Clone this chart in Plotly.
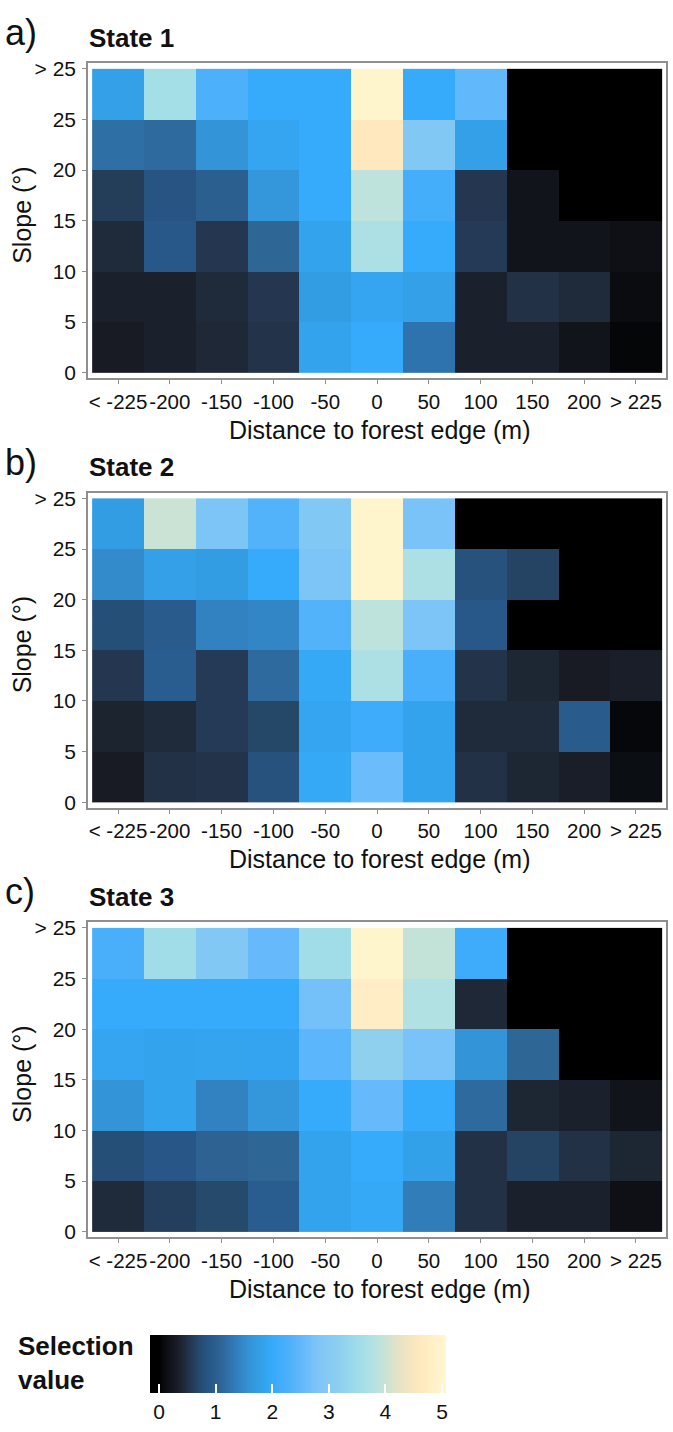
import plotly.graph_objects as go

W, H = 673, 1432

x_labels = ["< -225", "-200", "-150", "-100", "-50", "0", "50", "100", "150", "200", "> 225"]
y_tick_labels = ["0", "5", "10", "15", "20", "25", "> 25"]
y_tick_vals = [0, 5, 10, 15, 20, 25, 30]
y_centers = [2.5, 7.5, 12.5, 17.5, 22.5, 27.5]   # slope bins 0-5 ... >25
x_centers = list(range(len(x_labels)))

# rows: slope bins from 0-5 (first) to >25 (last); columns follow x_labels
state1 = [
    [0.30, 0.35, 0.42, 0.52, 1.85, 2.00, 1.25, 0.35, 0.35, 0.20, 0.05],
    [0.35, 0.35, 0.45, 0.55, 1.75, 1.90, 1.80, 0.35, 0.50, 0.45, 0.10],
    [0.45, 0.90, 0.55, 1.10, 1.85, 3.70, 2.00, 0.58, 0.20, 0.20, 0.15],
    [0.60, 0.85, 1.00, 1.65, 2.00, 3.90, 2.20, 0.55, 0.20, 0.00, 0.00],
    [1.20, 1.15, 1.60, 1.90, 2.00, 4.60, 2.90, 1.80, 0.00, 0.00, 0.00],
    [1.80, 3.60, 2.30, 2.00, 2.00, 5.00, 2.00, 2.50, 0.00, 0.00, 0.00],
]
state2 = [
    [0.30, 0.50, 0.52, 0.82, 1.95, 2.60, 1.85, 0.50, 0.40, 0.33, 0.12],
    [0.38, 0.45, 0.58, 0.68, 1.90, 2.10, 1.85, 0.45, 0.45, 0.95, 0.06],
    [0.55, 0.98, 0.58, 1.15, 1.95, 3.70, 2.25, 0.52, 0.40, 0.30, 0.33],
    [0.78, 0.95, 1.40, 1.45, 2.35, 3.90, 2.80, 0.90, 0.00, 0.00, 0.00],
    [1.50, 1.80, 1.75, 2.00, 2.80, 5.00, 3.70, 0.82, 0.65, 0.00, 0.00],
    [1.75, 4.00, 2.80, 2.35, 2.90, 5.00, 2.75, 0.00, 0.00, 0.00, 0.00],
]
state3 = [
    [0.45, 0.62, 0.70, 0.98, 1.85, 1.95, 1.35, 0.50, 0.35, 0.35, 0.15],
    [0.78, 0.88, 1.05, 1.10, 1.85, 2.00, 1.82, 0.50, 0.65, 0.50, 0.40],
    [1.60, 1.85, 1.40, 1.65, 2.00, 2.55, 2.00, 1.15, 0.40, 0.35, 0.20],
    [1.90, 1.85, 1.87, 1.88, 2.45, 3.20, 2.75, 1.60, 1.10, 0.00, 0.00],
    [2.00, 2.00, 2.00, 2.00, 2.70, 4.80, 3.75, 0.42, 0.00, 0.00, 0.00],
    [2.25, 3.55, 2.90, 2.55, 3.55, 5.00, 3.95, 2.10, 0.00, 0.00, 0.00],
]
states = [state1, state2, state3]
panel_letters = ["a)", "b)", "c)"]
panel_titles = ["State 1", "State 2", "State 3"]

cb_ticks = [0, 1, 2, 3, 4, 5]
zmin, zmax = -0.16, 5.07
color_stops = [
    (-0.16, "#000000"), (0.0, "#000000"), (0.1, "#0a0c10"), (0.3, "#181b24"),
    (0.45, "#1f2b3b"), (0.55, "#243650"), (0.7, "#254a6c"), (0.9, "#28578a"),
    (1.1, "#2e6696"), (1.25, "#2e73ae"), (1.45, "#3386c6"), (1.6, "#3494d8"),
    (1.8, "#33a0e8"), (2.0, "#36aafb"), (2.3, "#4db0fa"), (2.55, "#66bafb"),
    (2.8, "#7ec5f7"), (3.2, "#8fd0ef"), (3.6, "#a4dfe8"), (3.9, "#bde3dc"),
    (4.2, "#e3e2c6"), (4.6, "#ffe8bd"), (5.07, "#fff7d0"),
]
colorscale = [[(v - zmin) / (zmax - zmin), c] for v, c in color_stops]

FONT = "Liberation Sans, Arial, sans-serif"
TXT = "#111111"

def px_x(p):
    return p / W

def px_y(p):
    return 1 - p / H

fig = go.Figure()

frame_left, frame_right = 88, 666
frame_tops = [58, 493, 928]
frame_h = 319

annotations = []
for i, z in enumerate(states):
    n = i + 1
    xa = "x" if n == 1 else f"x{n}"
    ya = "y" if n == 1 else f"y{n}"
    fig.add_trace(go.Heatmap(
        z=z, x=x_centers, y=y_centers, coloraxis="coloraxis",
        xaxis=xa, yaxis=ya, xgap=0, ygap=0, hoverongaps=False,
    ))
    top = frame_tops[i]
    bottom = top + frame_h
    axis_common = dict(
        showline=True, linecolor="#8f8f8f", linewidth=1.5, mirror=True,
        ticks="outside", ticklen=4, tickcolor="#8f8f8f", tickwidth=1,
        showgrid=False, zeroline=False, tickangle=0,
    )
    fig.update_layout(**{
        ("xaxis" if n == 1 else f"xaxis{n}"): dict(
            domain=[px_x(frame_left), px_x(frame_right)],
            anchor=ya, range=[-0.58, len(x_labels) - 1 + 0.58],
            tickmode="array", tickvals=x_centers, ticktext=x_labels,
            tickfont=dict(family=FONT, size=20.5, color=TXT),
            **axis_common),
        ("yaxis" if n == 1 else f"yaxis{n}"): dict(
            domain=[px_y(bottom), px_y(top)],
            anchor=xa, range=[-0.55, 30.55],
            tickmode="array", tickvals=y_tick_vals, ticktext=y_tick_labels,
            ticklabelstandoff=2,
            tickfont=dict(family=FONT, size=21, color=TXT),
            **axis_common),
    })
    annotations += [
        dict(text=panel_letters[i], x=px_x(3), y=px_y(top - 31), xref="paper", yref="paper",
             xanchor="left", yanchor="middle", showarrow=False,
             font=dict(family=FONT, size=36, color=TXT)),
        dict(text="<b>" + panel_titles[i] + "</b>", x=px_x(87), y=px_y(top - 26),
             xref="paper", yref="paper", xanchor="left", yanchor="middle", showarrow=False,
             font=dict(family=FONT, size=26, color=TXT)),
        dict(text="Slope (°)", x=px_x(22), y=px_y(top + frame_h / 2 - 6), xref="paper", yref="paper",
             xanchor="center", yanchor="middle", textangle=-90, showarrow=False,
             font=dict(family=FONT, size=25, color=TXT)),
        dict(text="Distance to forest edge (m)", x=px_x(380), y=px_y(bottom + 52),
             xref="paper", yref="paper", xanchor="center", yanchor="middle", showarrow=False,
             font=dict(family=FONT, size=25, color=TXT)),
    ]

# colour bar geometry
cb_left, cb_right, cb_top, cb_bottom = 150, 446, 1346, 1404
annotations.append(dict(
    text="<b>Selection<br>value</b>", x=px_x(16), y=px_y((cb_top + cb_bottom) / 2 - 1),
    xref="paper", yref="paper", xanchor="left", yanchor="middle", align="left",
    showarrow=False, font=dict(family=FONT, size=26, color=TXT)))

shapes = []
for v in cb_ticks:
    xp = cb_left + (v - zmin) / (zmax - zmin) * (cb_right - cb_left)
    shapes.append(dict(type="line", xref="paper", yref="paper",
                       x0=px_x(xp), x1=px_x(xp), y0=px_y(cb_top), y1=px_y(cb_top + 9),
                       line=dict(color="white", width=2)))

fig.update_layout(
    width=W, height=H,
    margin=dict(l=0, r=0, t=0, b=0),
    paper_bgcolor="white", plot_bgcolor="white",
    showlegend=False,
    annotations=annotations,
    shapes=shapes,
    coloraxis=dict(
        colorscale=colorscale, cmin=zmin, cmax=zmax,
        colorbar=dict(
            orientation="h", x=px_x(cb_left), xanchor="left",
            y=px_y(cb_top), yanchor="top",
            len=cb_right - cb_left, lenmode="pixels",
            thickness=cb_bottom - cb_top, thicknessmode="pixels",
            xpad=0, ypad=0, outlinewidth=0,
            tickmode="array", tickvals=cb_ticks, ticktext=[str(t) for t in cb_ticks],
            ticks="inside", ticklen=9, tickwidth=2, tickcolor="white",
            tickfont=dict(family=FONT, size=21, color=TXT),
        ),
    ),
)

fig.write_html(
    "out.html",
    config={"displayModeBar": False},
    post_script="document.body.style.margin='0';document.body.style.padding='0';"
                "document.documentElement.style.overflow='hidden';",
)
